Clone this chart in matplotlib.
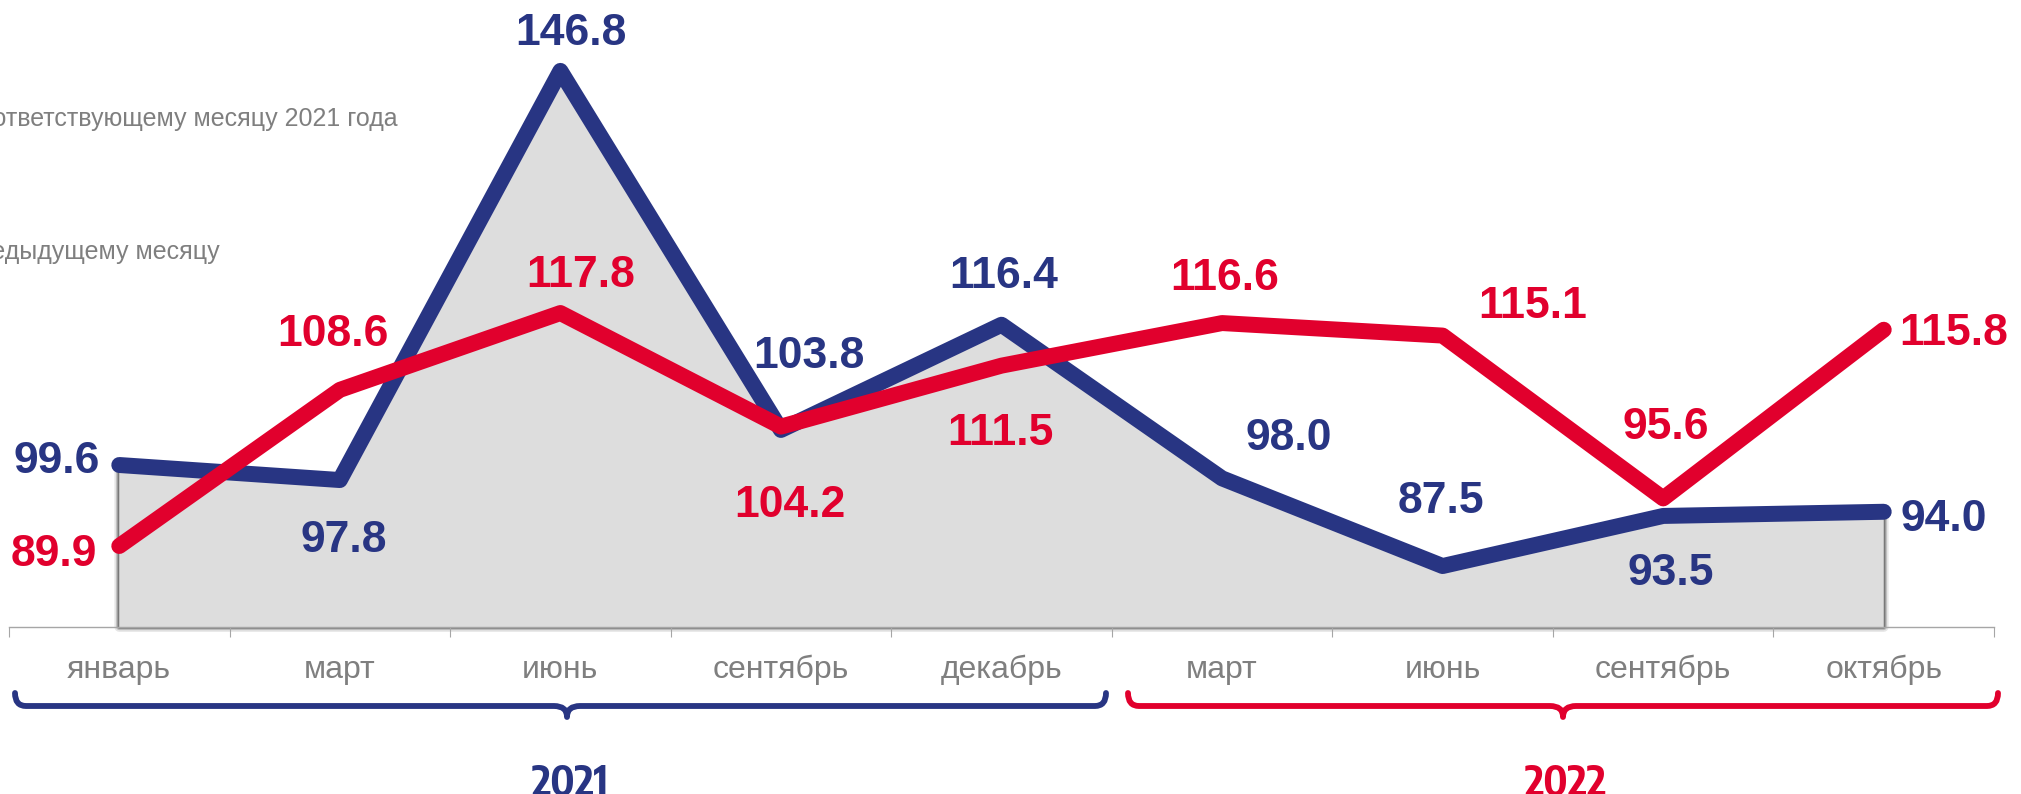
import matplotlib
matplotlib.use('Agg')
import matplotlib.pyplot as plt
import matplotlib.transforms as mtransforms
from matplotlib import font_manager
from matplotlib.path import Path
from matplotlib.patches import PathPatch
import numpy as np

# ---------------- data ----------------
categories = ['январь', 'март', 'июнь', 'сентябрь', 'декабрь',
              'март', 'июнь', 'сентябрь', 'октябрь']
years = ['2021', '2022']
blue_values = [99.6, 97.8, 146.8, 103.8, 116.4, 98.0, 87.5, 93.5, 94.0]
red_values = [89.9, 108.6, 117.8, 104.2, 111.5, 116.6, 115.1, 95.6, 115.8]
legend_texts = ['к соответствующему месяцу 2021 года', 'к предыдущему месяцу']

# label offsets (pixels) relative to each point
blue_offsets = [(-63, 8), (4, -56), (11, 42), (28, 78), (2, 53),
                (67, 44), (-2, 69), (8, -53), (60, -3)]
red_offsets = [(-65, -4), (-7, 60), (20, 42), (9, -74), (-1, -63),
               (3, 49), (90, 34), (3, 75), (70, 1)]

# ---------------- style ----------------
BLUE = '#283583'
RED = '#E1002D'
GRAY_TXT = '#7F7F7F'
FILL = '#DDDDDD'
AXIS_GRAY = '#A6A6A6'

# look for a narrow / condensed face for the year labels
narrow_family = None
for f in font_manager.fontManager.ttflist:
    n = f.name.lower()
    if ('narrow' in n or 'condensed' in n) and 'sans' in n:
        narrow_family = f.name
        break
year_fontkw = dict(family=[narrow_family, 'Liberation Sans'] if narrow_family else ['Liberation Sans'])
if narrow_family is None:
    # try condensed stretch of installed families
    cond = [f for f in font_manager.fontManager.ttflist
            if str(f.stretch) in ('condensed', 'semi-condensed', '600', '500', 'semi-condensed')]
    if cond:
        year_fontkw = dict(family=[cond[0].name, 'Liberation Sans'], stretch=cond[0].stretch)
year_size = 30 if narrow_family else 26

W, H = 2021, 794
fig = plt.figure(figsize=(W / 100, H / 100), dpi=100)
fig.patch.set_facecolor('white')

ax_left, ax_right = 9, 1994
ax_bottom_px = 627
px_per_unit = 8.35
ymin = 80.2
ymax = ymin + ax_bottom_px / px_per_unit

ax = fig.add_axes([ax_left / W, (H - ax_bottom_px) / H,
                   (ax_right - ax_left) / W, ax_bottom_px / H])
ax.set_xlim(-0.5, len(categories) - 0.5)
ax.set_ylim(ymin, ymax)
ax.set_facecolor('none')
for s in ['top', 'left', 'right']:
    ax.spines[s].set_visible(False)
ax.spines['bottom'].set_color(AXIS_GRAY)
ax.spines['bottom'].set_linewidth(1.0)
ax.set_yticks([])
ax.set_xticks(np.arange(-0.5, len(categories), 1.0))
ax.set_xticklabels([])
ax.tick_params(axis='x', length=7.5, width=0.8, color=AXIS_GRAY, direction='out')

x = np.arange(len(categories))

# gray area under blue line with soft shadow
for lw, a in [(7, 0.10), (4.5, 0.18), (2.5, 0.35)]:
    ax.fill_between(x, blue_values, ymin, facecolor='none',
                    edgecolor=(0, 0, 0, a), linewidth=lw, zorder=1.5, clip_on=False)
ax.fill_between(x, blue_values, ymin, facecolor=FILL, edgecolor='none',
                zorder=1.6, clip_on=False)

ax.plot(x, blue_values, color=BLUE, lw=11.5, solid_capstyle='round',
        solid_joinstyle='round', zorder=3)
ax.plot(x, red_values, color=RED, lw=11.5, solid_capstyle='round',
        solid_joinstyle='round', zorder=4)

lab_kw = dict(textcoords='offset pixels', ha='center', va='center_baseline',
              fontsize=32, fontweight='bold', family=['Liberation Sans', 'DejaVu Sans'],
              zorder=5)
for i, v in enumerate(blue_values):
    ax.annotate(f'{v:.1f}', (i, v), xytext=blue_offsets[i], color=BLUE, **lab_kw)
for i, v in enumerate(red_values):
    ax.annotate(f'{v:.1f}', (i, v), xytext=red_offsets[i], color=RED, **lab_kw)

# category labels
blend = mtransforms.blended_transform_factory(ax.transData, fig.transFigure)
for i, c in enumerate(categories):
    ax.text(i, 1 - 678 / H, c, transform=blend, ha='center', va='baseline',
            fontsize=23, color=GRAY_TXT, family=['Liberation Sans', 'DejaVu Sans'],
            clip_on=False)

# legend texts (cut at left edge)
fig.text(398 / W, 1 - 126 / H, legend_texts[0], ha='right', va='baseline',
         fontsize=18, color=GRAY_TXT, family=['Liberation Sans', 'DejaVu Sans'])
fig.text(220 / W, 1 - 259 / H, legend_texts[1], ha='right', va='baseline',
         fontsize=18, color=GRAY_TXT, family=['Liberation Sans', 'DejaVu Sans'])


# braces
def brace(x0, x1, xc, color):
    y_line, y_end, y_tip = 706, 693, 717
    r, rc = 11, 13
    pts = [(x0, y_end), (x0, y_line), (x0 + r, y_line),
           (xc - rc, y_line), (xc, y_line), (xc, y_tip),
           (xc, y_line), (xc + rc, y_line),
           (x1 - r, y_line), (x1, y_line), (x1, y_end)]
    codes = [Path.MOVETO, Path.CURVE3, Path.CURVE3,
             Path.LINETO, Path.CURVE3, Path.CURVE3,
             Path.CURVE3, Path.CURVE3,
             Path.LINETO, Path.CURVE3, Path.CURVE3]
    verts = [(px / W, 1 - py / H) for px, py in pts]
    patch = PathPatch(Path(verts, codes), transform=fig.transFigure,
                      facecolor='none', edgecolor=color, lw=4.2,
                      capstyle='round', joinstyle='round')
    fig.patches.append(patch)


year_colors = [BLUE, RED]
brace_ends = [(15, 1106), (1128, 1998)]
brace_centers = [567, 1563]
for k, yr in enumerate(years):
    x0, x1 = brace_ends[k]
    xc = brace_centers[k]
    brace(x0, x1, xc, year_colors[k])
    fig.text((xc + 3) / W, -2 / H, yr, ha='center', va='baseline', fontsize=year_size,
             fontweight='bold', color=year_colors[k], **year_fontkw)

fig.savefig('out.png', dpi=100, facecolor='white')
